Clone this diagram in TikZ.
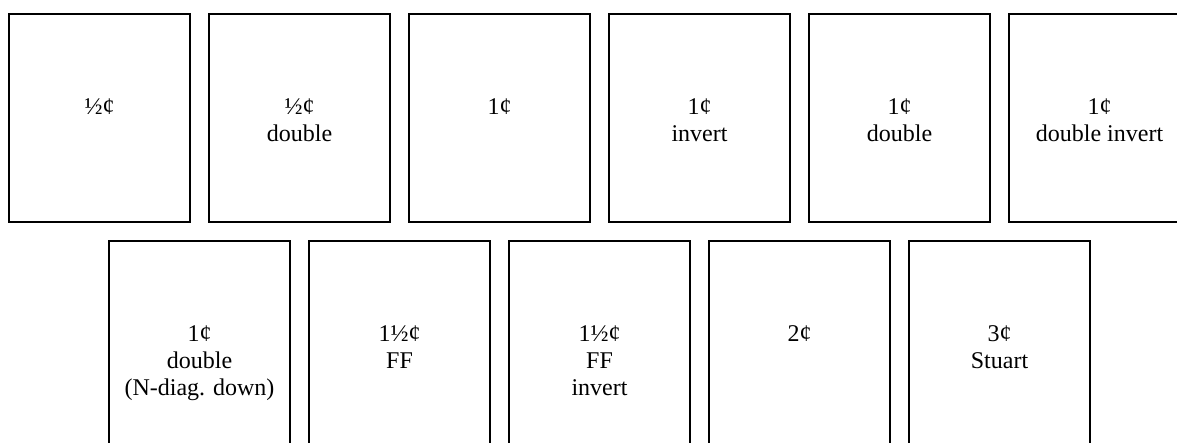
\documentclass[tikz,border=0pt]{standalone}
\usepackage{fontspec}
\setmainfont{Liberation Serif}
\begin{document}
\begin{tikzpicture}[x=1pt,y=-1pt,
  stampbox/.style={draw=black,line width=1.6pt,minimum width=181pt,minimum height=208pt,inner sep=0pt,anchor=north},
  stamptext/.style={anchor=north,align=center,inner sep=0pt,font=\fontsize{24}{27}\selectfont}]
\useasboundingbox (0,0) rectangle (1177,443);
% top row
\node[stampbox] (t1) at (99.5,13) {};
\node[stampbox] (t2) at (299.5,13) {};
\node[stampbox] (t3) at (499.5,13) {};
\node[stampbox] (t4) at (699.5,13) {};
\node[stampbox] (t5) at (899.5,13) {};
\node[stampbox] (t6) at (1099.5,13) {};
\node[stamptext] (l1) at ([yshift=-82pt]t1.north) {\strut ½¢};
\node[stamptext] (l2) at ([yshift=-82pt]t2.north) {\strut ½¢\\double};
\node[stamptext] (l3) at ([yshift=-82pt]t3.north) {\strut 1¢};
\node[stamptext] (l4) at ([yshift=-82pt]t4.north) {\strut 1¢\\invert};
\node[stamptext] (l5) at ([yshift=-82pt]t5.north) {\strut 1¢\\double};
\node[stamptext] (l6) at ([yshift=-82pt]t6.north) {\strut 1¢\\double invert};
% bottom row
\node[stampbox] (b1) at (199.5,240) {};
\node[stampbox] (b2) at (399.5,240) {};
\node[stampbox] (b3) at (599.5,240) {};
\node[stampbox] (b4) at (799.5,240) {};
\node[stampbox] (b5) at (999.5,240) {};
\node[stamptext] (m1) at ([yshift=-82pt]b1.north) {\strut 1¢\\double\\(N-diag. down)};
\node[stamptext] (m2) at ([yshift=-82pt]b2.north) {\strut 1½¢\\FF};
\node[stamptext] (m3) at ([yshift=-82pt]b3.north) {\strut 1½¢\\FF\\invert};
\node[stamptext] (m4) at ([yshift=-82pt]b4.north) {\strut 2¢};
\node[stamptext] (m5) at ([yshift=-82pt]b5.north) {\strut 3¢\\Stuart};
\end{tikzpicture}
\end{document}
